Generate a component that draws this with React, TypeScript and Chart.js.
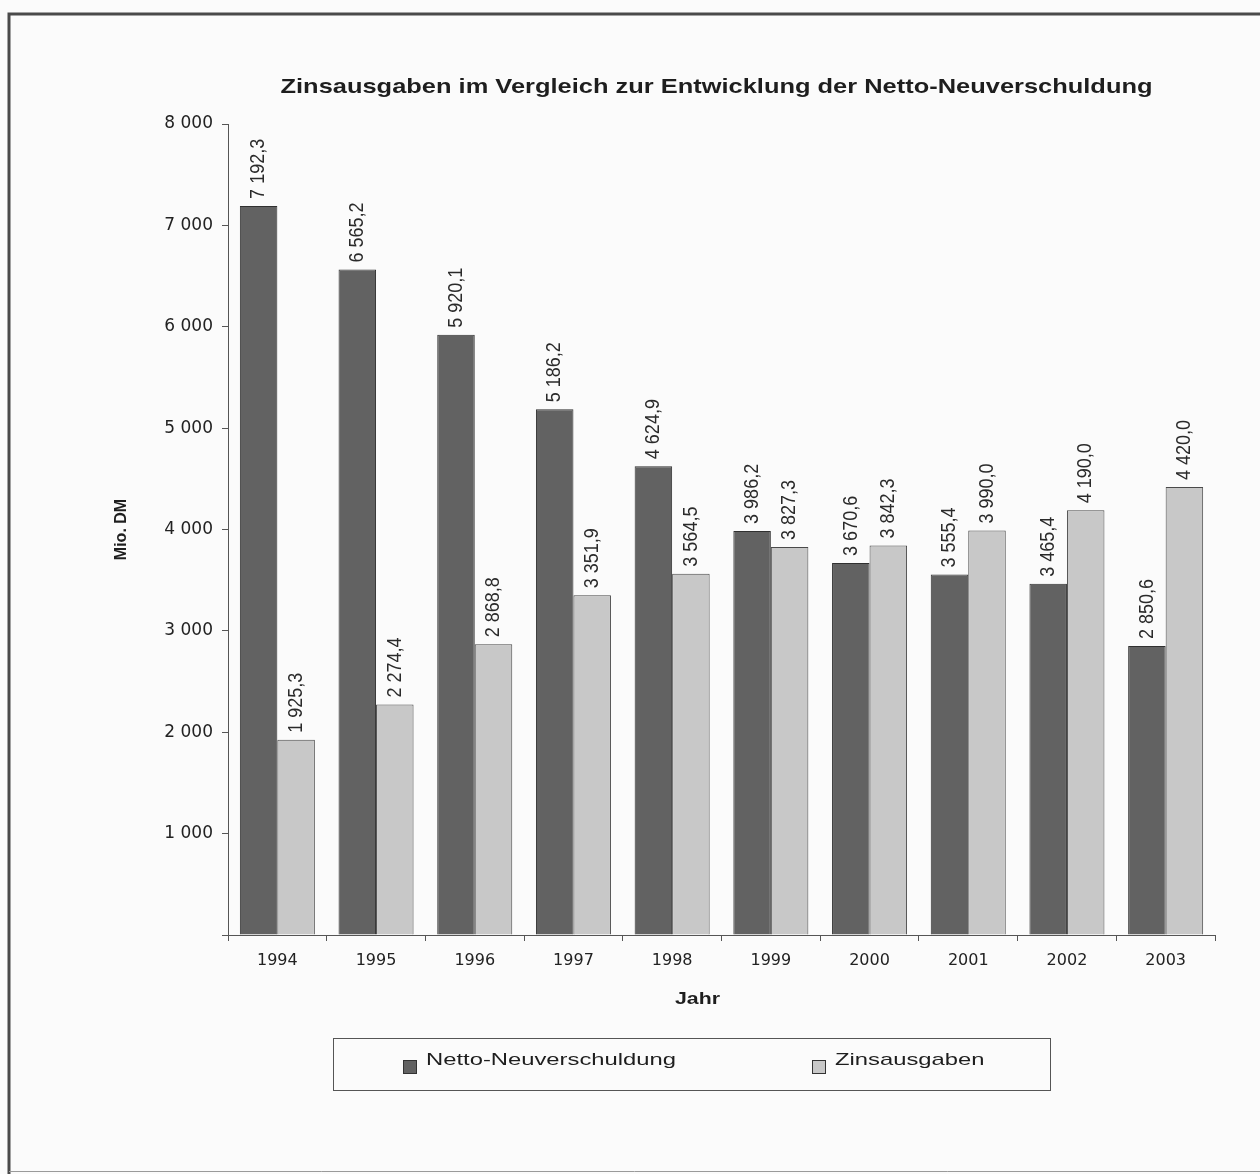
import React, { useEffect, useRef } from "react";
import { Chart, registerables } from "chart.js";

Chart.register(...registerables);

const years = ["1994", "1995", "1996", "1997", "1998", "1999", "2000", "2001", "2002", "2003"];
const nettoNeuverschuldung = [7192.3, 6565.2, 5920.1, 5186.2, 4624.9, 3986.2, 3670.6, 3555.4, 3465.4, 2850.6];
const zinsausgaben = [1925.3, 2274.4, 2868.8, 3351.9, 3564.5, 3827.3, 3842.3, 3990.0, 4190.0, 4420.0];
const seriesNames = ["Netto-Neuverschuldung", "Zinsausgaben"];
const titleText = "Zinsausgaben im Vergleich zur Entwicklung der Netto-Neuverschuldung";
const yAxisTitle = "Mio. DM";
const xAxisTitle = "Jahr";

const FONT = "'Liberation Sans', Arial, sans-serif";
const TICKFONT = "'DejaVu Sans', 'Liberation Sans', sans-serif";
const DARK = "#626262";
const LIGHT = "#c8c8c8";
const STRETCH = 1.33;

function fmtThousands(v: number, decimals: number): string {
  const s = v.toFixed(decimals);
  const [intPart, dec] = s.split(".");
  const withSp = intPart.replace(/\B(?=(\d{3})+(?!\d))/g, " ");
  return dec !== undefined ? withSp + "," + dec : withSp;
}

function stretchedText(ctx: any, text: string, x: number, y: number, align: string, sx: number) {
  ctx.save();
  ctx.translate(x, y);
  ctx.scale(sx, 1);
  ctx.textAlign = align;
  ctx.textBaseline = "middle";
  ctx.fillText(text, 0, 0);
  ctx.restore();
}

const decorPlugin = {
  id: "decor",
  beforeDraw(chart: any) {
    const ctx = chart.ctx;
    ctx.save();
    ctx.fillStyle = "#fbfbfb";
    ctx.fillRect(0, 0, chart.width, chart.height);
    ctx.strokeStyle = "#4a4a4a";
    ctx.lineWidth = 3;
    ctx.beginPath();
    ctx.moveTo(9, chart.height);
    ctx.lineTo(9, 14);
    ctx.lineTo(chart.width, 14);
    ctx.stroke();
    ctx.strokeStyle = "#9a9a9a";
    ctx.lineWidth = 1;
    ctx.beginPath();
    ctx.moveTo(9, 1171.5);
    ctx.lineTo(chart.width, 1171.5);
    ctx.stroke();
    ctx.restore();
  },
  afterDraw(chart: any) {
    const ctx = chart.ctx;
    const area = chart.chartArea;
    ctx.save();
    // title
    ctx.fillStyle = "#1e1e1e";
    ctx.font = `bold 21px ${FONT}`;
    const tw = ctx.measureText(titleText).width;
    stretchedText(ctx, titleText, (area.left + area.right) / 2 - 5, 87, "center", 872 / tw);

    // x axis title
    ctx.font = `bold 16px ${FONT}`;
    stretchedText(ctx, xAxisTitle, (area.left + area.right) / 2 - 24, 1000, "center", STRETCH);

    // value labels
    ctx.font = `18px ${FONT}`;
    ctx.fillStyle = "#2a2a2a";
    chart.data.datasets.forEach((ds: any, di: number) => {
      const meta = chart.getDatasetMeta(di);
      meta.data.forEach((bar: any, i: number) => {
        const v = ds.data[i];
        ctx.save();
        ctx.translate(bar.x, bar.y - 7);
        ctx.rotate(-Math.PI / 2);
        ctx.scale(1, 1.15);
        ctx.textAlign = "left";
        ctx.textBaseline = "middle";
        ctx.fillText(fmtThousands(v, 1), 0, 0);
        ctx.restore();
      });
    });

    // legend box
    const lx = 333, ly = 1038, lw = 717, lh = 52;
    ctx.strokeStyle = "#555";
    ctx.lineWidth = 1;
    ctx.strokeRect(lx + 0.5, ly + 0.5, lw, lh);
    const items = [
      { label: seriesNames[0], color: DARK, x: 403 },
      { label: seriesNames[1], color: LIGHT, x: 812 },
    ];
    ctx.font = `17px ${FONT}`;
    items.forEach((it) => {
      ctx.fillStyle = it.color;
      ctx.fillRect(it.x, 1060, 14, 14);
      ctx.strokeStyle = "#333";
      ctx.strokeRect(it.x + 0.5, 1060.5, 13, 13);
      ctx.fillStyle = "#1e1e1e";
      stretchedText(ctx, it.label, it.x + 23, 1060, "left", 1.4);
    });
    ctx.restore();
  },
};

export default function App() {
  const ref = useRef<HTMLCanvasElement | null>(null);
  useEffect(() => {
    if (!ref.current) return;
    const chart = new Chart(ref.current, {
      type: "bar",
      data: {
        labels: years,
        datasets: [
          {
            label: seriesNames[0],
            data: nettoNeuverschuldung,
            backgroundColor: DARK,
            borderColor: "#303030",
            borderWidth: 1,
          },
          {
            label: seriesNames[1],
            data: zinsausgaben,
            backgroundColor: LIGHT,
            borderColor: "#4a4a4a",
            borderWidth: 1,
          },
        ],
      },
      options: {
        animation: false,
        responsive: false,
        maintainAspectRatio: false,
        layout: { padding: { left: 100, right: 45, top: 124, bottom: 164 } },
        datasets: { bar: { categoryPercentage: 0.76, barPercentage: 1.0 } },
        plugins: {
          legend: { display: false },
          title: { display: false },
          tooltip: { enabled: false },
        },
        scales: {
          x: {
            offset: true,
            grid: {
              display: true,
              drawOnChartArea: false,
              drawTicks: true,
              tickLength: 6,
              color: "#555",
              offset: true,
            },
            border: { display: true, color: "#555", width: 1 },
            ticks: { color: "#222", font: { family: TICKFONT, size: 16 }, padding: 10 },
            title: { display: false },
            afterFit(scale: any) {
              scale.height = 75;
            },
          },
          y: {
            min: 0,
            max: 8000,
            grid: {
              display: true,
              drawOnChartArea: false,
              drawTicks: true,
              tickLength: 6,
              color: "#555",
            },
            border: { display: true, color: "#555", width: 1 },
            ticks: {
              stepSize: 1000,
              color: "#222",
              font: { family: TICKFONT, size: 17 },
              padding: 9,
              callback: (v: any) => (Number(v) === 0 ? "" : fmtThousands(Number(v), 0)),
            },
            title: {
              display: true,
              text: yAxisTitle,
              color: "#1e1e1e",
              font: { family: FONT, size: 16, weight: "bold" },
              padding: { top: 12, bottom: 0 },
            },
            afterFit(scale: any) {
              scale.width = 128;
            },
          },
        },
      },
      plugins: [decorPlugin],
    } as any);
    return () => chart.destroy();
  }, []);
  return (
    <div style={{ position: "absolute", left: 0, top: 0, width: 1260, height: 1174 }}>
      <canvas ref={ref} width={1260} height={1174} style={{ display: "block", width: 1260, height: 1174 }} />
    </div>
  );
}
